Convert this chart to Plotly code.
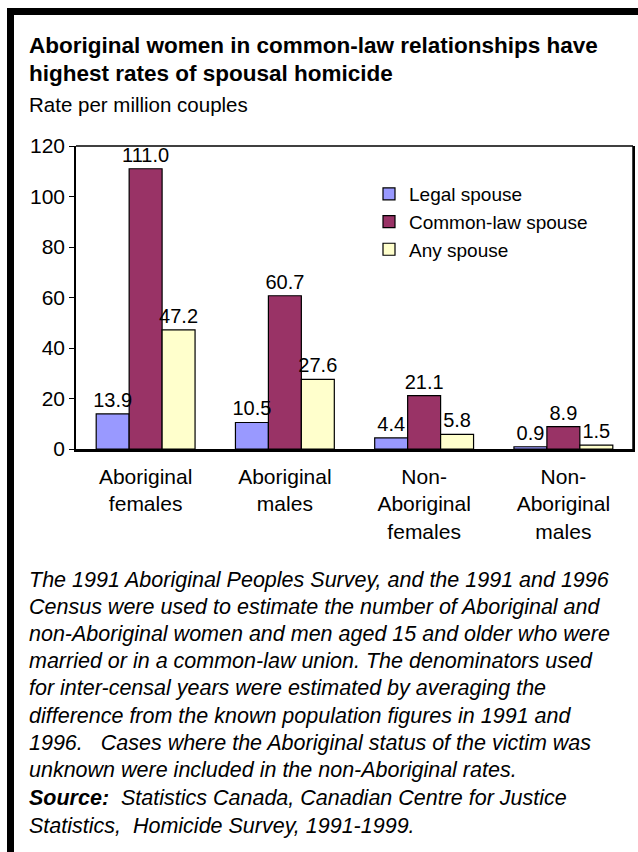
import plotly.graph_objects as go

categories = ["Aboriginal<br>females", "Aboriginal<br>males", "Non-<br>Aboriginal<br>females", "Non-<br>Aboriginal<br>males"]
series_names = ["Legal spouse", "Common-law spouse", "Any spouse"]
legal = [13.9, 10.5, 4.4, 0.9]
common_law = [111.0, 60.7, 21.1, 8.9]
any_spouse = [47.2, 27.6, 5.8, 1.5]
y_ticks = [0, 20, 40, 60, 80, 100, 120]

title_lines = ["Aboriginal women in common-law relationships have",
               "highest rates of spousal homicide"]
subtitle = "Rate per million couples"
note_lines = [
    "The 1991 Aboriginal Peoples Survey, and the 1991 and 1996",
    "Census were used to estimate the number of Aboriginal and",
    "non-Aboriginal women and men aged 15 and older who were",
    "married or in a common-law union. The denominators used",
    "for inter-censal years were estimated by averaging the",
    "difference from the known population figures in 1991 and",
    "1996.   Cases where the Aboriginal status of the victim was",
    "unknown were included in the non-Aboriginal rates.",
]
source_label = "Source:"
source_lines = ["  Statistics Canada, Canadian Centre for Justice",
                "Statistics,  Homicide Survey, 1991-1999."]

colors = ["#9999FF", "#993366", "#FFFFCC"]
FONT = "Liberation Sans, Arial, sans-serif"

W, H = 638, 852
L, R, T, B = 76, 5, 146, 403
PW, PH = W - L - R, H - T - B

def px(x):
    return (x - L) / PW

def py(y):
    return (H - B - y) / PH

fig = go.Figure()
series = [legal, common_law, any_spouse]
for i, (name, vals, col) in enumerate(zip(series_names, series, colors)):
    fig.add_trace(go.Bar(
        x=categories, y=vals, name=name, offsetgroup=str(i),
        marker=dict(color=col, line=dict(color="black", width=1.2)),
        cliponaxis=False,
    ))
# value labels drawn on top of all bars
for i, vals in enumerate(series):
    fig.add_trace(go.Bar(
        x=categories, y=vals, offsetgroup=str(i), showlegend=False, hoverinfo="skip",
        marker=dict(color="rgba(0,0,0,0)", line=dict(width=0)),
        text=[f"{v:.1f}" for v in vals], textposition="outside",
        textfont=dict(size=20, color="black", family=FONT),
        constraintext="none", cliponaxis=False,
    ))

annotations = []
for i, line in enumerate(title_lines):
    annotations.append(dict(text=f"<b>{line}</b>", x=px(27), y=py(45 + i * 28),
                            xref="paper", yref="paper", xanchor="left", yanchor="middle",
                            showarrow=False, font=dict(size=22.5, color="black", family=FONT)))
annotations.append(dict(text=subtitle, x=px(27), y=py(104), xref="paper", yref="paper",
                        xanchor="left", yanchor="middle", showarrow=False,
                        font=dict(size=20.5, color="black", family=FONT)))
for i, line in enumerate(note_lines):
    annotations.append(dict(text=f"<i>{line}</i>", x=px(27), y=py(580 + i * 27.1),
                            xref="paper", yref="paper", xanchor="left", yanchor="middle",
                            showarrow=False, font=dict(size=21.5, color="black", family=FONT)))
annotations.append(dict(text=f"<b><i>{source_label}</i></b><i>{source_lines[0]}</i>",
                        x=px(27), y=py(798), xref="paper", yref="paper",
                        xanchor="left", yanchor="middle", showarrow=False,
                        font=dict(size=21.5, color="black", family=FONT)))
annotations.append(dict(text=f"<i>{source_lines[1]}</i>", x=px(27), y=py(826),
                        xref="paper", yref="paper", xanchor="left", yanchor="middle",
                        showarrow=False, font=dict(size=21.5, color="black", family=FONT)))

shapes = [
    dict(type="rect", xref="paper", yref="paper", x0=px(7), x1=px(640), y0=py(8), y1=py(15),
         fillcolor="black", line=dict(width=0)),
    dict(type="rect", xref="paper", yref="paper", x0=px(7), x1=px(14), y0=py(8), y1=py(854),
         fillcolor="black", line=dict(width=0)),
    dict(type="line", xref="paper", yref="paper", x0=1, x1=1, y0=0, y1=1,
         line=dict(color="black", width=1.5)),
    dict(type="line", xref="paper", yref="paper", x0=0, x1=1, y0=1, y1=1,
         line=dict(color="black", width=1.5)),
]

fig.update_layout(
    width=W, height=H,
    margin=dict(l=L, r=R, t=T, b=B, autoexpand=False),
    paper_bgcolor="white", plot_bgcolor="white",
    barmode="group", bargap=0.29, bargroupgap=0,
    font=dict(family=FONT, color="black", size=20),
    showlegend=True,
    legend=dict(x=px(369), y=py(175), xanchor="left", yanchor="top",
                bgcolor="rgba(0,0,0,0)", font=dict(size=19, family=FONT),
                tracegroupgap=0, itemwidth=30),
    annotations=annotations,
    shapes=shapes,
    xaxis=dict(showline=True, linecolor="black", linewidth=2.5, mirror=False,
               ticks="", tickfont=dict(size=21, family=FONT), showgrid=False,
               ticklabelstandoff=7, fixedrange=True),
    yaxis=dict(range=[0, 120], tickvals=y_ticks, showline=True, linecolor="black",
               linewidth=1.5, mirror=True, ticks="outside", ticklen=5, tickcolor="black",
               tickfont=dict(size=21, family=FONT), showgrid=False, zeroline=False,
               fixedrange=True),
)

fig.write_html("out.html", config={"displayModeBar": False},
               post_script="document.body.style.margin='0';document.body.style.overflow='hidden';")
